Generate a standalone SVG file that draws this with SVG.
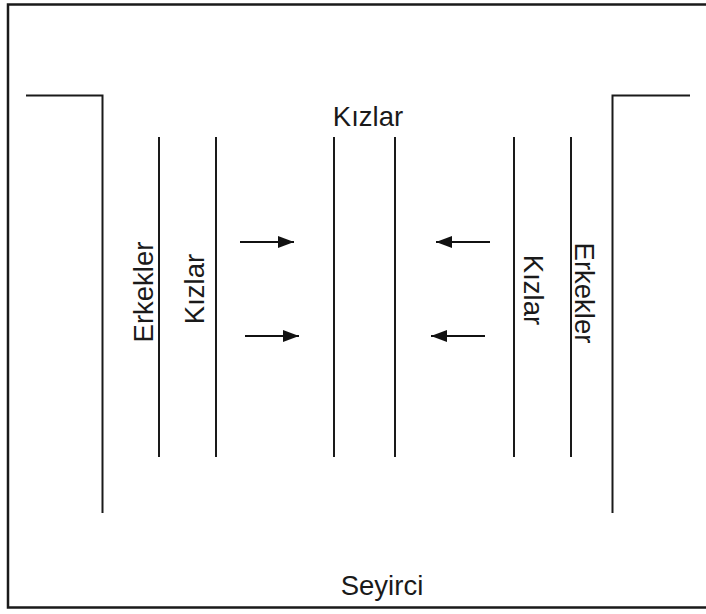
<svg xmlns="http://www.w3.org/2000/svg" width="706" height="614" viewBox="0 0 706 614">
<style>
.ln{stroke:#1a1a1a;stroke-width:2;fill:none}
.bd{stroke:#1a1a1a;stroke-width:2.5;fill:none}
.ar{stroke:#111;stroke-width:2;fill:none}
text{font-family:"Liberation Sans",Arial,sans-serif;font-size:27.5px;fill:#1a1a1a}
</style>
<defs>
<marker id="ah" viewBox="0 0 16 12" refX="16" refY="6" markerWidth="16" markerHeight="12" orient="auto" markerUnits="userSpaceOnUse">
<path d="M0,0 L16,6 L0,12 Z" fill="#111"/>
</marker>
</defs>
<rect width="706" height="614" fill="#fff"/>
<g id="frame">
<path class="bd" d="M706,4.5 H8 V607.5 H706"/>
<path class="ln" d="M26,95.5 H102.5 V513"/>
<path class="ln" d="M690,95.5 H612.5 V513"/>
</g>
<g id="lanes">
<line class="ln" x1="159" y1="137" x2="159" y2="457"/>
<line class="ln" x1="216" y1="137" x2="216" y2="457"/>
<line class="ln" x1="334" y1="137" x2="334" y2="457"/>
<line class="ln" x1="395" y1="137" x2="395" y2="457"/>
<line class="ln" x1="514" y1="137" x2="514" y2="457"/>
<line class="ln" x1="571" y1="137" x2="571" y2="457"/>
</g>
<g id="connectors">
<line class="ar" x1="240" y1="242" x2="294" y2="242" marker-end="url(#ah)"/>
<line class="ar" x1="245" y1="336" x2="299" y2="336" marker-end="url(#ah)"/>
<line class="ar" x1="490" y1="242" x2="436" y2="242" marker-end="url(#ah)"/>
<line class="ar" x1="485" y1="336" x2="431" y2="336" marker-end="url(#ah)"/>
</g>
<g id="labels">
<text x="368" y="126" text-anchor="middle">Kızlar</text>
<text x="382" y="595" text-anchor="middle">Seyirci</text>
<text transform="translate(153,292) rotate(-90)" text-anchor="middle">Erkekler</text>
<text transform="translate(204,289) rotate(-90)" text-anchor="middle">Kızlar</text>
<text transform="translate(524,290) rotate(90)" text-anchor="middle">Kızlar</text>
<text transform="translate(575,293) rotate(90)" text-anchor="middle">Erkekler</text>
</g>
</svg>
